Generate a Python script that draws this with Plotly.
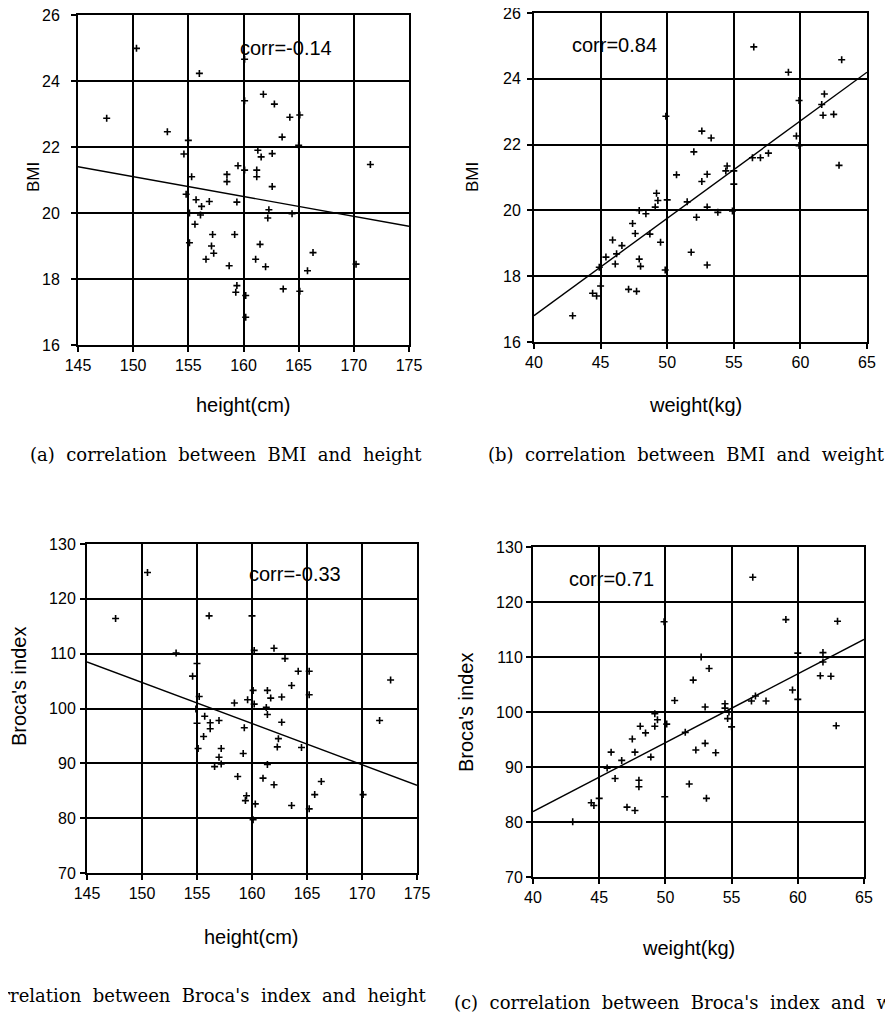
import plotly.graph_objects as go

# ---------------- data ----------------
a_height = [147.6, 150.3, 156.0, 153.1, 155.0, 154.6, 155.3, 154.8, 155.1, 155.7, 156.2, 156.9, 156.1, 155.6,
            155.1, 157.2, 157.1, 157.3, 156.6, 158.7, 159.2, 159.4, 158.5, 158.5, 159.5, 160.1, 160.1, 160.1,
            161.2, 161.2, 161.3, 161.6, 161.8, 162.8, 162.6, 162.6, 164.2, 165.1, 163.5, 165.0, 162.3, 162.2,
            164.4, 161.5, 161.1, 162.0, 166.3, 165.8, 163.6, 165.1, 159.4, 159.3, 160.2, 160.2, 170.2, 171.5]
a_bmi = [22.87, 24.99, 24.23, 22.46, 22.2, 21.79, 21.1, 20.57, 20.0, 20.4, 20.2, 20.35, 19.94, 19.66,
         19.1, 19.35, 19.0, 18.78, 18.6, 18.4, 19.35, 20.33, 21.17, 20.95, 21.43, 21.3, 24.66, 23.4,
         21.3, 21.1, 21.9, 21.7, 23.6, 23.3, 21.8, 20.8, 22.9, 22.97, 22.3, 22.05, 20.1, 19.85,
         19.98, 19.05, 18.6, 18.37, 18.8, 18.25, 17.7, 17.63, 17.8, 17.6, 17.5, 16.84, 18.45, 21.47]
a_trend_x = [145, 175]
a_trend_y = [21.4, 19.6]

b_weight = [56.5, 59.1, 63.1, 59.9, 61.8, 61.7, 62.5, 61.6, 59.7, 59.9, 62.9, 57.6, 57.0, 56.4, 55.0,
            54.5, 54.4, 55.0, 54.9, 53.8, 53.0, 53.0, 52.6, 52.6, 53.3, 52.0, 50.7, 51.5, 52.2, 51.8,
            53.0, 49.9, 50.0, 49.2, 49.3, 49.1, 47.9, 48.4, 47.4, 47.6, 48.7, 49.5, 49.85, 47.9, 48.0,
            45.9, 46.6, 46.2, 45.4, 46.1, 44.9, 45.0, 44.4, 44.7, 47.1, 47.7, 42.9]
b_bmi = [24.97, 24.2, 24.58, 23.34, 23.54, 22.89, 22.92, 23.22, 22.26, 21.97, 21.37, 21.74, 21.6, 21.6, 21.2,
         21.35, 21.2, 20.8, 19.98, 19.94, 20.1, 21.1, 20.88, 22.41, 22.2, 21.78, 21.08, 20.26, 19.79, 18.73,
         18.34, 22.86, 20.32, 20.52, 20.3, 20.1, 20.0, 19.9, 19.6, 19.3, 19.28, 19.03, 18.19, 18.52, 18.3,
         19.1, 18.93, 18.68, 18.58, 18.37, 18.27, 17.7, 17.48, 17.4, 17.6, 17.54, 16.8]
b_trend_x = [40, 65]
b_trend_y = [16.8, 24.2]

c_height = [147.6, 150.5, 153.1, 156.1, 160.0, 155.0, 154.6, 155.2, 154.9, 155.0, 155.1, 155.7, 156.2, 156.2,
            157.0, 155.6, 157.2, 157.0, 156.6, 157.2, 158.4, 159.6, 159.3, 159.2, 160.2, 160.2, 160.1, 162.0,
            163.0, 161.4, 161.7, 161.3, 161.4, 162.7, 162.7, 162.4, 162.3, 163.6, 164.2, 165.2, 165.2, 164.5,
            161.4, 171.6, 158.7, 161.0, 162.0, 166.3, 165.7, 159.5, 159.4, 160.3, 163.6, 165.2, 160.1, 170.1,
            172.6]
c_broca = [116.4, 124.8, 110.1, 116.9, 116.9, 108.2, 105.9, 102.2, 99.9, 97.3, 92.7, 98.6, 97.4, 96.3,
           97.8, 94.9, 92.7, 91.1, 89.4, 89.9, 101.0, 101.6, 96.5, 91.8, 110.6, 100.8, 103.3, 111.0,
           109.1, 103.3, 101.9, 100.2, 98.9, 102.1, 97.5, 94.5, 93.0, 104.2, 106.8, 106.8, 102.5, 92.9,
           89.8, 97.8, 87.6, 87.3, 86.1, 86.7, 84.3, 84.1, 83.2, 82.6, 82.3, 81.7, 79.7, 84.3,
           105.2]
c_trend_x = [145, 175]
c_trend_y = [108.5, 86.0]

d_weight = [56.6, 59.1, 63.0, 49.9, 60.0, 61.9, 61.9, 61.7, 62.5, 59.6, 60.0, 57.6, 56.8, 56.5, 62.9,
            54.5, 54.5, 54.8, 54.7, 55.0, 53.3, 52.1, 52.7, 50.7, 53.0, 51.5, 52.3, 53.0, 53.8, 50.1,
            49.4, 49.2, 48.1, 48.5, 47.5, 49.2, 45.9, 47.7, 48.9, 46.7, 45.6, 46.2, 48.0, 48.0, 51.8,
            53.1, 45.0, 44.4, 44.6, 47.1, 47.7, 49.95, 43.0]
d_broca = [124.5, 116.8, 116.5, 116.4, 110.7, 110.8, 109.1, 106.6, 106.5, 104.0, 102.3, 102.0, 102.9, 102.0, 97.5,
           101.5, 100.7, 100.0, 98.8, 97.3, 107.9, 105.8, 110.0, 102.1, 100.9, 96.3, 93.1, 94.3, 92.6, 97.8,
           98.6, 97.4, 97.4, 96.2, 95.1, 99.7, 92.7, 92.7, 91.8, 91.2, 89.8, 87.9, 87.6, 86.4, 86.9,
           84.3, 84.3, 83.5, 83.0, 82.7, 82.1, 84.6, 80.05]
d_trend_x = [40, 65]
d_trend_y = [81.9, 113.2]

height_ticks = [145, 150, 155, 160, 165, 170, 175]
weight_ticks = [40, 45, 50, 55, 60, 65]
bmi_ticks = [16, 18, 20, 22, 24, 26]
broca_ticks = [70, 80, 90, 100, 110, 120, 130]

corr_labels = ["corr=-0.14", "corr=0.84", "corr=-0.33", "corr=0.71"]
x_titles = ["height(cm)", "weight(kg)", "height(cm)", "weight(kg)"]
y_titles = ["BMI", "BMI", "Broca's index", "Broca's index"]
captions = ["(a) correlation between BMI and height",
            "(b) correlation between BMI and weight",
            "(c) correlation between Broca's index and height",
            "(c) correlation between Broca's index and weight"]

# ---------------- layout ----------------
# page pixel positions (browser body margin of 8px is compensated)
OFF = 8
W, H = 893 - OFF, 1014 - OFF
boxes = [(78, 409, 15, 345), (534, 867, 13, 342), (87, 417, 544, 873), (533, 864, 547, 877)]
standoffs = [8, 3, 1, 0]


def px(x):
    return (x - OFF) / W


def py(y):
    return 1 - (y - OFF) / H


SANS = "Liberation Sans, Arial, sans-serif"
SERIF = "DejaVu Serif, Liberation Serif, serif"

fig = go.Figure()
panels = [
    (a_height, a_bmi, a_trend_x, a_trend_y, height_ticks, bmi_ticks),
    (b_weight, b_bmi, b_trend_x, b_trend_y, weight_ticks, bmi_ticks),
    (c_height, c_broca, c_trend_x, c_trend_y, height_ticks, broca_ticks),
    (d_weight, d_broca, d_trend_x, d_trend_y, weight_ticks, broca_ticks),
]

layout = {}
for i, (xs, ys, tx, ty, xt, yt) in enumerate(panels):
    n = i + 1
    xa = "x" if n == 1 else f"x{n}"
    ya = "y" if n == 1 else f"y{n}"
    fig.add_trace(go.Scatter(x=xs, y=ys, mode="markers", xaxis=xa, yaxis=ya,
                             marker=dict(symbol="cross-thin", size=5, color="black",
                                         line=dict(color="black", width=1.6)),
                             showlegend=False, hoverinfo="x+y"))
    fig.add_trace(go.Scatter(x=tx, y=ty, mode="lines", xaxis=xa, yaxis=ya,
                             line=dict(color="black", width=1.4), showlegend=False))
    l, r, t, b = boxes[i]
    axcommon = dict(showgrid=True, gridcolor="black", gridwidth=1.7, showline=True, linecolor="black",
                    linewidth=2, mirror=True, zeroline=False, ticks="outside", ticklen=5,
                    tickcolor="black", tickwidth=1.5, automargin=False, ticklabeloverflow="allow",
                    tickfont=dict(family=SANS, size=16, color="black"))
    layout["xaxis" if n == 1 else f"xaxis{n}"] = dict(
        axcommon, domain=[px(l), px(r)], range=[xt[0], xt[-1]], tickvals=xt,
        anchor=ya)
    layout["yaxis" if n == 1 else f"yaxis{n}"] = dict(
        axcommon, domain=[py(b), py(t)], range=[yt[0], yt[-1]], tickvals=yt,
        anchor=xa, ticklabelstandoff=standoffs[i])

fig.update_layout(**layout)

ann = []
corr_pos = [(286, 48), (614, 45), (295, 574), (611, 579)]
xt_pos = [(243, 405), (695, 405), (251, 937), (688, 948)]
yt_pos = [(34, 177), (473, 177), (19, 687), (466, 713)]
for i in range(4):
    cx, cy = corr_pos[i]
    ann.append(dict(x=px(cx), y=py(cy), xref="paper", yref="paper", text=corr_labels[i],
                    xanchor="center", yanchor="middle",
                    showarrow=False, font=dict(family=SANS, size=20, color="black")))
    xx, xy = xt_pos[i]
    ann.append(dict(x=px(xx), y=py(xy), xref="paper", yref="paper", text=x_titles[i],
                    xanchor="center", yanchor="middle",
                    showarrow=False, font=dict(family=SANS, size=20, color="black")))
    yx, yy = yt_pos[i]
    ann.append(dict(x=px(yx), y=py(yy), xref="paper", yref="paper", text=y_titles[i],
                    xanchor="center", yanchor="middle",
                    textangle=-90, showarrow=False,
                    font=dict(family=SANS, size=17 if i < 2 else 20, color="black")))


def spaced(s):
    return s.replace(" ", " \u00a0")


cap_font = dict(family=SERIF, size=18, color="black")
ann.append(dict(x=px(28), y=py(455), xref="paper", yref="paper", text=spaced(captions[0]),
                xanchor="left", yanchor="middle", showarrow=False, font=cap_font))
ann.append(dict(x=px(486), y=py(455), xref="paper", yref="paper", text=spaced(captions[1]),
                xanchor="left", yanchor="middle", showarrow=False, font=cap_font))
ann.append(dict(x=px(428), y=py(995), xref="paper", yref="paper", text=spaced(captions[2]),
                xanchor="right", yanchor="middle", showarrow=False, font=cap_font))
ann.append(dict(x=px(452), y=py(1002), xref="paper", yref="paper", text=spaced(captions[3]),
                xanchor="left", yanchor="middle", showarrow=False, font=cap_font))

fig.update_layout(width=W, height=H, margin=dict(l=0, r=0, t=0, b=0),
                  paper_bgcolor="white", plot_bgcolor="white", annotations=ann)

fig.write_html("out.html")
